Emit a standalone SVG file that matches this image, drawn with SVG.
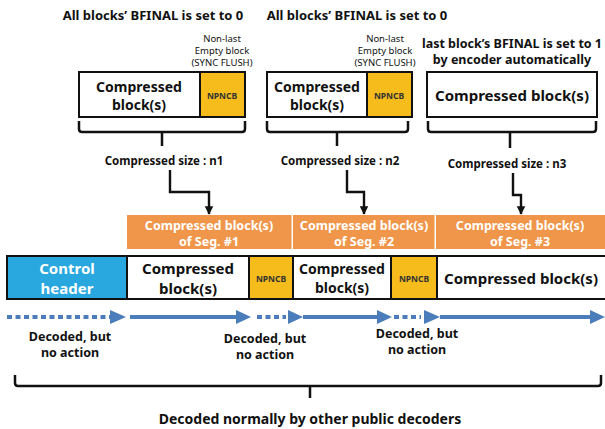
<svg xmlns="http://www.w3.org/2000/svg" width="605" height="429" viewBox="0 0 605 429">
  <style>
    text { font-family: "Noto Sans", "Open Sans", "Liberation Sans", sans-serif; text-anchor: middle; dominant-baseline: central; fill: #111; }
    .title { font-size: 13px; font-weight: bold; }
    .small { font-size: 9.5px; }
    .blk { font-size: 14px; font-weight: bold; }
    .blk2 { font-size: 15px; font-weight: bold; }
    .np { font-size: 8.5px; font-weight: bold; fill: #333; }
    .size { font-size: 11.5px; font-weight: bold; }
    .seg { font-size: 12.5px; font-weight: bold; fill: #fff; }
    .dec { font-size: 12.5px; font-weight: bold; }
    .box { fill: #fff; stroke: #111; stroke-width: 2; }
    .yel { fill: #F5BC1C; stroke: #111; stroke-width: 2; }
    .ctl { fill: #29A7DF; stroke: #111; stroke-width: 2; }
    .org { fill: #F0964A; }
    .brace { fill: none; stroke: #111; stroke-width: 2.5; }
    .elbow { fill: none; stroke: #111; stroke-width: 2.4; marker-end: url(#ah); }
    .flow { fill: none; stroke: #4A7DBA; stroke-width: 4; }
    .dot { stroke-dasharray: 5 3.5; }
    .head { fill: #4A7DBA; }
  </style>
  <defs>
    <marker id="ah" viewBox="0 0 10 10" refX="9" refY="5" markerWidth="3.6" markerHeight="3.6" markerUnits="strokeWidth" orient="auto">
      <path d="M0,0 L10,5 L0,10 Z" fill="#111"/>
    </marker>
  </defs>

  <!-- headings -->
  <text class="title" x="153" y="15">All blocks’ BFINAL is set to 0</text>
  <text class="title" x="357" y="15">All blocks’ BFINAL is set to 0</text>

  <!-- encoder segment 1 -->
  <g id="enc1">
    <text class="small" x="222" y="38">Non-last</text>
    <text class="small" x="222" y="50">Empty block</text>
    <text class="small" x="222" y="62">(SYNC FLUSH)</text>
    <rect class="box" x="79" y="72" width="121" height="45"/>
    <rect class="yel" x="200" y="72" width="45" height="45"/>
    <text class="blk" x="139" y="86">Compressed</text>
    <text class="blk" x="139" y="104">block(s)</text>
    <text class="np" x="222" y="95">NPNCB</text>
  </g>

  <!-- encoder segment 2 -->
  <g id="enc2">
    <text class="small" x="385" y="38">Non-last</text>
    <text class="small" x="385" y="50">Empty block</text>
    <text class="small" x="385" y="62">(SYNC FLUSH)</text>
    <rect class="box" x="267" y="72" width="100" height="45"/>
    <rect class="yel" x="367" y="72" width="45" height="45"/>
    <text class="blk" x="317" y="86">Compressed</text>
    <text class="blk" x="317" y="104">block(s)</text>
    <text class="np" x="389" y="95">NPNCB</text>
  </g>

  <!-- encoder segment 3 -->
  <g id="enc3">
    <text class="dec" x="512" y="43">last block’s BFINAL is set to 1</text>
    <text class="dec" x="512" y="59">by encoder automatically</text>
    <rect class="box" x="427" y="72" width="170" height="45"/>
    <text class="blk2" x="512" y="95">Compressed block(s)</text>
  </g>

  <!-- size labels -->
  <g id="size1"><text class="size" x="164" y="160">Compressed size : n1</text></g>
  <g id="size2"><text class="size" x="340" y="160">Compressed size : n2</text></g>
  <g id="size3"><text class="size" x="507" y="163">Compressed size : n3</text></g>

  <!-- stream segments -->
  <g id="seg1">
    <rect class="org" x="127" y="215" width="164.5" height="34"/>
    <text class="seg" x="209" y="225">Compressed block(s)</text>
    <text class="seg" x="209" y="241">of Seg. #1</text>
  </g>
  <g id="seg2">
    <rect class="org" x="293" y="215" width="141.5" height="34"/>
    <text class="seg" x="364" y="225">Compressed block(s)</text>
    <text class="seg" x="364" y="241">of Seg. #2</text>
  </g>
  <g id="seg3">
    <rect class="org" x="436" y="215" width="169" height="34"/>
    <text class="seg" x="520" y="225">Compressed block(s)</text>
    <text class="seg" x="520" y="241">of Seg. #3</text>
  </g>

  <!-- output stream -->
  <g id="stream">
    <rect class="ctl" x="7" y="256" width="120" height="43"/>
    <text class="blk2" x="67" y="268" style="fill:#fff">Control</text>
    <text class="blk2" x="67" y="288" style="fill:#fff">header</text>
    <rect class="box" x="127" y="256" width="122" height="43"/>
    <text class="blk2" x="188" y="268">Compressed</text>
    <text class="blk2" x="188" y="288">block(s)</text>
    <rect class="yel" x="249" y="256" width="44" height="43"/>
    <text class="np" x="271" y="278">NPNCB</text>
    <rect class="box" x="293" y="256" width="98" height="43"/>
    <text class="blk" x="342" y="268">Compressed</text>
    <text class="blk" x="342" y="287">block(s)</text>
    <rect class="yel" x="391" y="256" width="46" height="43"/>
    <text class="np" x="414" y="278">NPNCB</text>
    <rect class="box" x="437" y="256" width="169" height="43"/>
    <text class="blk2" x="521" y="278">Compressed block(s)</text>
  </g>

  <!-- decoder labels -->
  <g id="dec1">
    <text class="dec" x="70" y="336">Decoded, but</text>
    <text class="dec" x="70" y="352">no action</text>
  </g>
  <g id="dec2">
    <text class="dec" x="265" y="338">Decoded, but</text>
    <text class="dec" x="265" y="354">no action</text>
  </g>
  <g id="dec3">
    <text class="dec" x="417" y="333">Decoded, but</text>
    <text class="dec" x="417" y="349">no action</text>
  </g>
  <g id="summary">
    <text class="title" x="310" y="418" style="font-size:14px">Decoded normally by other public decoders</text>
  </g>

  <!-- connectors -->
  <g id="connectors">
    <!-- braces -->
    <path class="brace" d="M79,121 V129 Q79,132 82,132 H242 Q245,132 245,129 V121 M162,132 V146"/>
    <path class="brace" d="M267,121 V129 Q267,132 270,132 H405 Q408,132 408,129 V121 M337,132 V146"/>
    <path class="brace" d="M428,121 V129 Q428,132 431,132 H593 Q596,132 596,129 V121 M510,132 V148"/>
    <path class="brace" d="M15,375 V383 Q15,386 18,386 H598 Q601,386 601,383 V375 M310,386 V398"/>

    <!-- size to segment -->
    <path class="elbow" d="M170,170 V192 H209 V214"/>
    <path class="elbow" d="M347,170 V192 H364 V214"/>
    <path class="elbow" d="M513,173 V195 H521 V214"/>

    <!-- decoder flow -->
    <line class="flow dot" x1="7" y1="317" x2="110" y2="317"/>
    <polygon class="head" points="110,310 126,317 110,324"/>
    <line class="flow" x1="130" y1="317" x2="238" y2="317"/>
    <polygon class="head" points="236,310 251,317 236,324"/>
    <line class="flow dot" x1="257" y1="317" x2="286" y2="317"/>
    <polygon class="head" points="288,310 303,317 288,324"/>
    <line class="flow" x1="303" y1="317" x2="378" y2="317"/>
    <polygon class="head" points="377,310 392,317 377,324"/>
    <line class="flow dot" x1="394" y1="317" x2="421" y2="317"/>
    <polygon class="head" points="424,310 440,317 424,324"/>
    <line class="flow" x1="440" y1="317" x2="592" y2="317"/>
    <polygon class="head" points="590,310 605,317 590,324"/>
  </g>
</svg>
